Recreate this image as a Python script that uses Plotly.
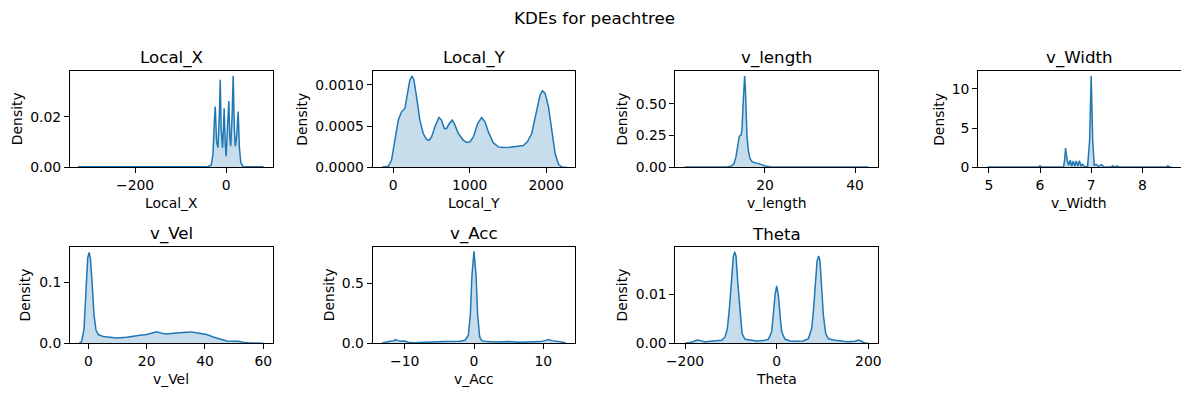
import plotly.graph_objects as go

W, H = 1189, 396          # browser window
OFF = 8                   # default body margin of the html page
FW, FH = W - 2 * OFF, H - 2 * OFF
FONT = "DejaVu Sans"
LINE = "#1f77b4"
FILL = "rgba(31,119,180,0.25)"

# ---------------- data ----------------
local_x_x = [-325, -40, -33, -29, -26, -24, -21, -18, -15, -13, -11, -8, -6, -4.4, -2, 0,
             3, 5.9, 8, 10, 13, 15.4, 18, 20, 23, 26.4, 29, 32, 37, 82]
local_x_y = [0.0002, 0.0003, 0.0008, 0.005, 0.018, 0.024, 0.010, 0.0078, 0.020, 0.0346, 0.015,
             0.0077, 0.015, 0.0233, 0.009, 0.0044, 0.016, 0.0262, 0.012, 0.0083, 0.020, 0.0362,
             0.015, 0.0083, 0.012, 0.022, 0.008, 0.002, 0.0003, 0.0002]

local_y_x = [-148, -65, -22, 22, 66, 109, 153, 183, 218, 245, 271, 306, 349, 393, 437, 472, 502,
             546, 598, 633, 668, 699, 734, 773, 808, 852, 917, 961, 1004, 1048, 1105, 1157, 1201,
             1245, 1310, 1376, 1441, 1528, 1616, 1703, 1755, 1812, 1878, 1921, 1952, 1987, 2031,
             2074, 2118, 2162, 2205, 2262]
local_y_y = [0.0, 0.0000121, 0.000085, 0.000328, 0.000571, 0.000672, 0.000713, 0.000874,
             0.001057, 0.001105, 0.001057, 0.000854, 0.000571, 0.000409, 0.000336, 0.000328,
             0.000368, 0.00049, 0.000603, 0.000571, 0.00047, 0.00047, 0.00053, 0.000571,
             0.00051, 0.000409, 0.000328, 0.0003, 0.000308, 0.000368, 0.00053, 0.000603,
             0.00055, 0.000429, 0.000296, 0.000247, 0.000239, 0.000243, 0.000255, 0.000263,
             0.000308, 0.000409, 0.000692, 0.000874, 0.000927, 0.000895, 0.000733, 0.000449,
             0.000166, 0.000036, 0.000004, 0.0]

v_length_x = [2.2, 11.48, 12.59, 13.11, 13.55, 13.92, 14.29, 14.66, 14.89, 15.11, 15.33, 15.48,
              15.63, 15.78, 16.0, 16.3, 16.67, 17.18, 17.78, 18.52, 19.26, 20.0, 21.1, 22.6, 43.0]
v_length_y = [0.003, 0.003, 0.011, 0.029, 0.082, 0.174, 0.245, 0.253, 0.292, 0.476, 0.637, 0.718,
              0.637, 0.424, 0.24, 0.134, 0.068, 0.042, 0.034, 0.029, 0.021, 0.011, 0.005, 0.003,
              0.003]

v_width_x = [4.974, 5.97, 6.0, 6.03, 6.46, 6.48, 6.5, 6.53, 6.56, 6.59, 6.62, 6.65, 6.68, 6.71,
             6.74, 6.77, 6.8, 6.83, 6.87, 6.93, 6.97, 7.0, 7.03, 7.06, 7.1, 7.14, 7.2, 7.25,
             7.39, 7.42, 7.45, 7.5, 7.55, 8.47, 8.5, 8.53, 8.58]
v_width_y = [0.04, 0.04, 0.21, 0.04, 0.04, 0.89, 2.45, 0.89, 0.26, 0.89, 0.13, 0.81, 0.13, 0.81,
             0.13, 0.85, 0.13, 0.38, 0.04, 0.13, 3.45, 11.62, 3.45, 0.26, 0.38, 0.09, 0.34, 0.04,
             0.04, 0.21, 0.04, 0.17, 0.04, 0.04, 0.21, 0.04, 0.02]

v_vel_x = [-3.09, -2.29, -1.49, -0.8, -0.23, 0.23, 0.69, 1.26, 1.94, 2.63, 3.43, 5.14, 7.43,
           9.72, 13.14, 15.43, 17.72, 20.0, 22.06, 23.43, 25.15, 26.86, 29.15, 31.43, 34.86,
           36.58, 38.29, 40.58, 42.86, 45.15, 47.43, 49.72, 51.43, 53.15, 55.43, 60.0]
v_vel_y = [0.0, 0.0033, 0.0243, 0.0851, 0.1403, 0.1497, 0.1403, 0.1016, 0.0464, 0.0215, 0.0144,
           0.011, 0.0094, 0.0088, 0.0099, 0.0122, 0.0133, 0.0144, 0.0171, 0.0188, 0.0166,
           0.0155, 0.0166, 0.0177, 0.0188, 0.0177, 0.016, 0.0144, 0.0105, 0.0066, 0.0039,
           0.0033, 0.0033, 0.0017, 0.0006, 0.0]

v_acc_x = [-13.3, -12.63, -12.15, -11.66, -11.28, -10.94, -10.46, -9.98, -9.5, -8.77, -7.33,
           -5.88, -4.43, -2.99, -2.02, -1.3, -0.82, -0.53, -0.29, 0.0, 0.29, 0.53, 0.82, 1.11,
           1.83, 3.28, 4.96, 6.65, 8.1, 9.54, 10.27, 10.75, 11.23, 11.95, 12.68, 13.16, 13.3]
v_acc_y = [0.0, 0.011, 0.0168, 0.0196, 0.0307, 0.0223, 0.0168, 0.0196, 0.0084, 0.0056, 0.0056,
           0.0112, 0.014, 0.014, 0.0168, 0.0251, 0.067, 0.235, 0.57, 0.765, 0.57, 0.235, 0.053,
           0.0223, 0.014, 0.0112, 0.014, 0.0084, 0.0084, 0.014, 0.0223, 0.0307, 0.0223, 0.0196,
           0.011, 0.0028, 0.0]

theta_x = [-200, -189, -180.3, -173, -165.8, -156.3, -145.4, -130.9, -120, -112.7, -107.6,
           -103.2, -98.9, -94.5, -91.6, -88.7, -85.1, -80, -75.6, -69.1, -58.2, -43.6, -29.1,
           -18.2, -10.9, -7.3, -3.6, 0, 3.6, 7.3, 10.9, 18.2, 29.1, 43.6, 58.2, 69.1, 76.3, 80,
           84.3, 88, 91.6, 94.5, 98.1, 101.8, 106.9, 112.7, 123.6, 134.5, 145.4, 156.3, 170.8,
           178.8, 185.4, 192.6, 200]
theta_y = [0.0, 0.00014, 0.00041, 0.00068, 0.00055, 0.00027, 0.00041, 0.00048, 0.00062, 0.0013,
           0.00301, 0.00712, 0.01329, 0.01774, 0.01863, 0.01774, 0.0126, 0.00575, 0.00199,
           0.00082, 0.00062, 0.00048, 0.00055, 0.00082, 0.00233, 0.00575, 0.00986, 0.01171,
           0.00986, 0.00575, 0.00233, 0.00082, 0.00048, 0.00041, 0.00048, 0.00096, 0.00301,
           0.00644, 0.0126, 0.01678, 0.01781, 0.01678, 0.01123, 0.00575, 0.00199, 0.00096,
           0.00068, 0.00062, 0.00041, 0.00034, 0.00041, 0.00068, 0.00034, 0.00007, 0.0]

titles = ["Local_X", "Local_Y", "v_length", "v_Width", "v_Vel", "v_Acc", "Theta"]
xs = [local_x_x, local_y_x, v_length_x, v_width_x, v_vel_x, v_acc_x, theta_x]
ys = [local_x_y, local_y_y, v_length_y, v_width_y, v_vel_y, v_acc_y, theta_y]

x_ticks = [[-200, 0], [0, 1000, 2000], [20, 40], [5, 6, 7, 8], [0, 20, 40, 60], [-10, 0, 10],
           [-200, 0, 200]]
y_ticks = [[0, 0.02], [0, 0.0005, 0.0010], [0, 0.25, 0.5], [0, 5, 10], [0, 0.1], [0, 0.5],
           [0, 0.01]]
y_ticktext = [["0.00", "0.02"], ["0.0000", "0.0005", "0.0010"], ["0.00", "0.25", "0.50"],
              ["0", "5", "10"], ["0.0", "0.1"], ["0.0", "0.5"], ["0.00", "0.01"]]

# ---------------- layout geometry (window pixels) ----------------
x_ranges = [[-343, 102], [-268, 2382], [0.1, 45.1], [4.79, 8.75], [-6.3, 63.2],
            [-14.62, 14.62], [-221, 221]]
y_ranges = [[0, 0.03806], [0, 0.001166], [0, 0.758], [0, 12.26], [0, 0.1586], [0, 0.8017],
            [0, 0.01966]]
col_left = [70, 372.7, 675.4, 978.1]
col_w = 202.6
row_top = [71, 247]
row_h = 96.3
ylab_x = [[17, 302.5, 622.3, 938.7], [25.3, 329, 622.3]]


def px(x):
    return (x - OFF) / FW


def py(y):
    return 1 - (y - OFF) / FH


def fmt_x(v):
    return str(v).replace("-", "\u2212")


fig = go.Figure()
annotations = []

for i in range(7):
    r, c = divmod(i, 4)
    n = "" if i == 0 else str(i + 1)
    fig.add_trace(go.Scatter(
        x=xs[i], y=ys[i], mode="lines", fill="tozeroy", fillcolor=FILL,
        line=dict(color=LINE, width=1.5), xaxis="x" + n, yaxis="y" + n,
        showlegend=False, hoverinfo="skip"))
    axis_common = dict(showline=True, linecolor="black", linewidth=1, mirror=True,
                       ticks="outside", ticklen=5, tickwidth=1, tickcolor="black",
                       showgrid=False, zeroline=False, automargin=False,
                       tickfont=dict(family=FONT, size=13.9, color="black"))
    fig.layout["xaxis" + n] = dict(domain=[px(col_left[c]), px(col_left[c] + col_w)],
                                   range=x_ranges[i], anchor="y" + n,
                                   tickmode="array", tickvals=x_ticks[i],
                                   ticktext=[fmt_x(v) for v in x_ticks[i]], **axis_common)
    fig.layout["yaxis" + n] = dict(domain=[py(row_top[r] + row_h), py(row_top[r])],
                                   range=y_ranges[i], anchor="x" + n,
                                   tickmode="array", tickvals=y_ticks[i],
                                   ticktext=y_ticktext[i], **axis_common)
    cx = px(col_left[c] + col_w / 2)
    annotations.append(dict(text=titles[i], x=cx, y=py(row_top[r] - 13), xref="paper",
                            yref="paper", xanchor="center", yanchor="middle", showarrow=False,
                            font=dict(family=FONT, size=16.7, color="black")))
    annotations.append(dict(text=titles[i], x=cx, y=py(row_top[r] + row_h + 36),
                            xref="paper", yref="paper", xanchor="center", yanchor="middle",
                            showarrow=False, font=dict(family=FONT, size=13.9, color="black")))
    annotations.append(dict(text="Density", x=px(ylab_x[r][c]),
                            y=py(row_top[r] + row_h / 2), xref="paper", yref="paper",
                            xanchor="center", yanchor="middle", textangle=-90, showarrow=False,
                            font=dict(family=FONT, size=13.9, color="black")))

annotations.append(dict(text="KDEs for peachtree", x=px(594.5), y=py(18), xref="paper",
                        yref="paper", xanchor="center", yanchor="middle", showarrow=False,
                        font=dict(family=FONT, size=16.7, color="black")))

fig.update_layout(width=FW, height=FH, margin=dict(l=0, r=0, t=0, b=0, autoexpand=False),
                  paper_bgcolor="white", plot_bgcolor="white", annotations=annotations,
                  font=dict(family=FONT, color="black"))

fig.write_html("out.html")
